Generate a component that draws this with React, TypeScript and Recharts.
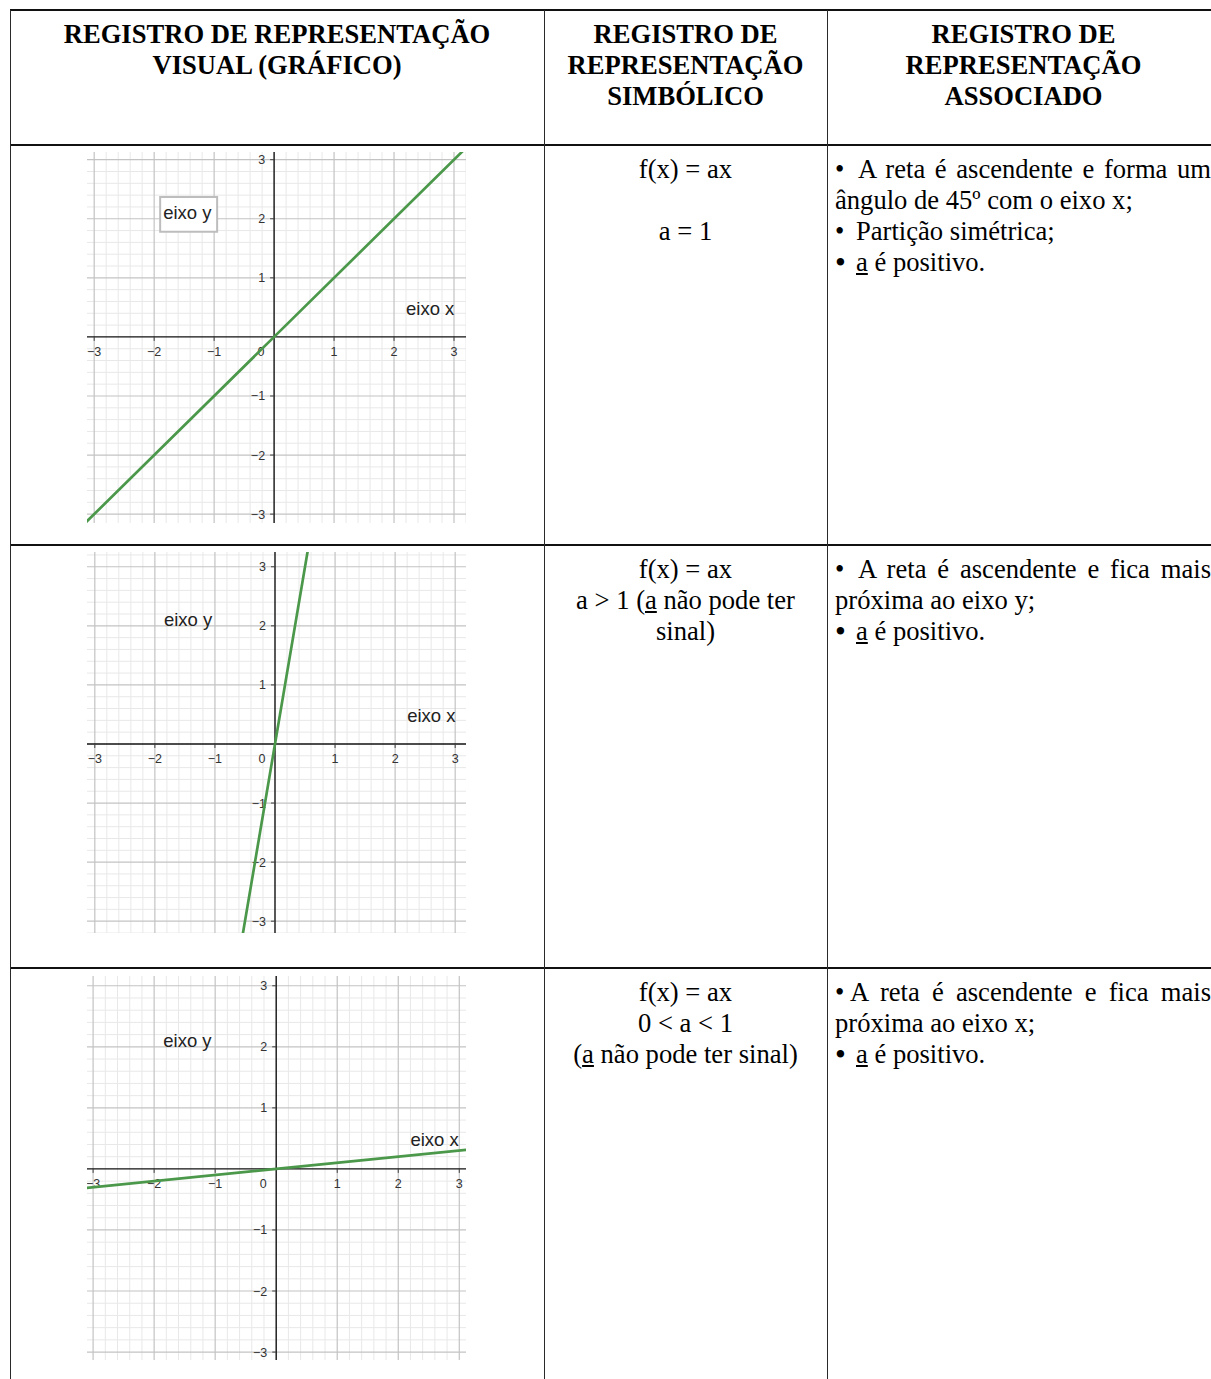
import React from 'react';
import { LineChart, Line, XAxis, YAxis, ReferenceLine, ReferenceDot, ReferenceArea } from 'recharts';

// ---------------- data ----------------
const majorValues = [-3, -2, -1, 1, 2, 3];
const tickLabels = ['\u22123', '\u22122', '\u22121', '1', '2', '3'];
const zeroLabel = '0';
const minorValues = [
  -3.2, -2.8, -2.6, -2.4, -2.2, -1.8, -1.6, -1.4, -1.2, -0.8, -0.6, -0.4, -0.2,
  0.2, 0.4, 0.6, 0.8, 1.2, 1.4, 1.6, 1.8, 2.2, 2.4, 2.6, 2.8, 3.2,
];

const lineEqualOne = [
  { x: -3.2, y: -3.2 },
  { x: 0, y: 0 },
  { x: 3.2, y: 3.2 },
];
const lineGreaterOne = [
  { x: -0.6, y: -3.6 },
  { x: 0, y: 0 },
  { x: 0.6, y: 3.6 },
];
const lineBetweenZeroOne = [
  { x: -3.2, y: -0.32 },
  { x: 0, y: 0 },
  { x: 3.2, y: 0.32 },
];

const axisNameY = 'eixo y';
const axisNameX = 'eixo x';

const headerVisual = ['REGISTRO DE REPRESENTAÇÃO', 'VISUAL (GRÁFICO)'];
const headerSymbolic = ['REGISTRO DE', 'REPRESENTAÇÃO', 'SIMBÓLICO'];
const headerAssociated = ['REGISTRO DE', 'REPRESENTAÇÃO', 'ASSOCIADO'];

// ---------------- styles ----------------
const SERIF = '"Liberation Serif", "Times New Roman", Times, serif';
const SANS = '"Liberation Sans", Arial, Helvetica, sans-serif';
const GREEN = '#4b984b';
const MINOR = '#e8e8e8';
const MAJOR = '#c3c3c3';

function PlotText(props: any) {
  const vb = props.viewBox || {};
  const cx = (vb.x || 0) + (vb.width || 0) / 2;
  const cy = (vb.y || 0) + (vb.height || 0) / 2;
  return (
    <text
      x={cx + (props.offX || 0)}
      y={cy + (props.offY || 0)}
      textAnchor={props.anchor || 'middle'}
      fontFamily={SANS}
      fontSize={props.size || 12.5}
      fill={props.color || '#333'}
    >
      {props.text}
    </text>
  );
}

type GraphProps = {
  data: { x: number; y: number }[];
  xDomain: [number, number];
  yDomain: [number, number];
  width: number;
  height: number;
  left: number;
  top: number;
  boxed?: boolean;
};

function Graph({ data, xDomain, yDomain, width, height, left, top, boxed }: GraphProps) {
  const tx = 4 / (width / (xDomain[1] - xDomain[0]));
  const ty = 4 / (height / (yDomain[1] - yDomain[0]));
  return (
    <div style={{ position: 'absolute', left, top, width, height }}>
      <LineChart width={width} height={height} data={data} margin={{ top: 0, right: 0, bottom: 0, left: 0 }}>
        <XAxis type="number" dataKey="x" domain={xDomain} allowDataOverflow hide />
        <YAxis type="number" domain={yDomain} allowDataOverflow hide />
        {minorValues.map((v) => (
          <ReferenceLine key={'mvx' + v} x={v} stroke={MINOR} strokeWidth={1} zIndex={-90} />
        ))}
        {minorValues.map((v) => (
          <ReferenceLine key={'mvy' + v} y={v} stroke={MINOR} strokeWidth={1} zIndex={-90} />
        ))}
        {majorValues.map((v) => (
          <ReferenceLine key={'Mvx' + v} x={v} stroke={MAJOR} strokeWidth={1.2} zIndex={-80} />
        ))}
        {majorValues.map((v) => (
          <ReferenceLine key={'Mvy' + v} y={v} stroke={MAJOR} strokeWidth={1.2} zIndex={-80} />
        ))}
        <ReferenceLine x={0} stroke="#111" strokeWidth={1.4} zIndex={-70} />
        <ReferenceLine y={0} stroke="#111" strokeWidth={1.4} zIndex={-70} />
        {majorValues.map((v) => (
          <ReferenceLine
            key={'tkx' + v}
            segment={[{ x: v, y: 0 }, { x: v, y: -ty }]}
            stroke="#444"
            strokeWidth={1}
            zIndex={-70}
          />
        ))}
        {majorValues.map((v) => (
          <ReferenceLine
            key={'tky' + v}
            segment={[{ x: -tx, y: v }, { x: 0, y: v }]}
            stroke="#444"
            strokeWidth={1}
            zIndex={-70}
          />
        ))}
        {boxed ? (
          <ReferenceArea
            x1={-1.9}
            x2={-0.95}
            y1={1.78}
            y2={2.37}
            fill="#ffffff"
            fillOpacity={1}
            stroke="#bdbdbd"
            strokeWidth={2}
            zIndex={-60}
          />
        ) : null}
        {majorValues.map((v, i) => (
          <ReferenceDot
            key={'lx' + v}
            x={v}
            y={0}
            r={0}
            fill="none"
            stroke="none"
            zIndex={-50}
            label={<PlotText text={tickLabels[i]} offY={19.5} anchor="middle" />}
          />
        ))}
        {majorValues.map((v, i) => (
          <ReferenceDot
            key={'ly' + v}
            x={0}
            y={v}
            r={0}
            fill="none"
            stroke="none"
            zIndex={-50}
            label={<PlotText text={tickLabels[i]} offX={-9} offY={4.5} anchor="end" />}
          />
        ))}
        <ReferenceDot
          x={0}
          y={0}
          r={0}
          fill="none"
          stroke="none"
          zIndex={-50}
          label={<PlotText text={zeroLabel} offX={-13} offY={19.5} anchor="middle" />}
        />
        <ReferenceDot
          x={-1.85}
          y={2.0}
          r={0}
          fill="none"
          stroke="none"
          zIndex={-50}
          label={<PlotText text={axisNameY} anchor="start" size={18.5} color="#222" />}
        />
        <ReferenceDot
          x={2.2}
          y={0.37}
          r={0}
          fill="none"
          stroke="none"
          zIndex={-50}
          label={<PlotText text={axisNameX} anchor="start" size={18.5} color="#222" />}
        />
        <Line
          type="linear"
          dataKey="y"
          stroke={GREEN}
          strokeWidth={2.7}
          dot={false}
          activeDot={false}
          isAnimationActive={false}
        />
      </LineChart>
    </div>
  );
}

// ---------------- table layout ----------------
const OFF = 0;
const ROWS = [10, 145, 545, 968];
const COLS = [10, 544, 827];

const lineStyle: React.CSSProperties = { whiteSpace: 'nowrap', height: 31 };

function Cell({ left, width, top, align, bold, children }: any) {
  return (
    <div
      style={{
        position: 'absolute',
        left: left - OFF,
        top: top - OFF + 9,
        width,
        textAlign: align,
        fontWeight: bold ? 'bold' : 'normal',
      }}
    >
      {children}
    </div>
  );
}

const Just = ({ children }: any) => (
  <div style={{ ...lineStyle, textAlign: 'justify', textAlignLast: 'justify' }}>{children}</div>
);
const L = ({ children }: any) => <div style={lineStyle}>{children}</div>;
const SmallBullet = ({ w }: { w: number }) => (
  <span style={{ display: 'inline-block', width: w }}>•</span>
);
const BigBullet = () => (
  <span style={{ display: 'inline-block', width: 21, fontSize: 31, lineHeight: '31px', verticalAlign: 'top' }}>•</span>
);
const U = ({ children }: any) => <span style={{ textDecoration: 'underline' }}>{children}</span>;

export default function App() {
  const col1W = COLS[1] - COLS[0];
  const col2W = COLS[2] - COLS[1];
  const col3L = 835;
  const col3W = 1211 - 835;
  return (
    <div
      style={{
        position: 'relative',
        width: 1211,
        height: 1379,
        overflow: 'hidden',
        background: '#fff',
        fontFamily: SERIF,
        fontSize: 26.6,
        lineHeight: '31px',
        color: '#000',
      }}
    >
      <style>{'html,body{margin:0;padding:0;overflow:hidden;}'}</style>
      {ROWS.map((y) => (
        <div key={'h' + y} style={{ position: 'absolute', left: COLS[0] - OFF, top: y - OFF - 1, width: 1300, height: 2, background: '#111' }} />
      ))}
      {COLS.map((x) => (
        <div key={'v' + x} style={{ position: 'absolute', left: x - OFF, top: ROWS[0] - OFF, width: 1, height: 1400, background: '#2a2a2a' }} />
      ))}

      {/* header */}
      <Cell left={COLS[0]} width={col1W} top={ROWS[0]} align="center" bold>
        {headerVisual.map((t) => <L key={t}>{t}</L>)}
      </Cell>
      <Cell left={COLS[1]} width={col2W} top={ROWS[0]} align="center" bold>
        {headerSymbolic.map((t) => <L key={t}>{t}</L>)}
      </Cell>
      <Cell left={col3L} width={1212 - 835} top={ROWS[0]} align="center" bold>
        {headerAssociated.map((t) => <L key={t}>{t}</L>)}
      </Cell>

      {/* graphs */}
      <Graph data={lineEqualOne} xDomain={[-3.12, 3.2]} yDomain={[-3.15, 3.13]} width={379} height={371} left={87 - OFF} top={152 - OFF} boxed />
      <Graph data={lineGreaterOne} xDomain={[-3.13, 3.18]} yDomain={[-3.2, 3.25]} width={379} height={381} left={87 - OFF} top={552 - OFF} />
      <Graph data={lineBetweenZeroOne} xDomain={[-3.1, 3.11]} yDomain={[-3.13, 3.16]} width={379} height={384} left={87 - OFF} top={976 - OFF} />

      {/* row 1 */}
      <Cell left={COLS[1]} width={col2W} top={ROWS[1]} align="center">
        <L>f(x) = ax</L>
        <L>{'\u00a0'}</L>
        <L>a = 1</L>
      </Cell>
      <Cell left={col3L} width={col3W} top={ROWS[1]} align="left">
        <Just><SmallBullet w={23} />A reta é ascendente e forma um</Just>
        <L>ângulo de 45º com o eixo x;</L>
        <L><SmallBullet w={21} />Partição simétrica;</L>
        <L><BigBullet /><U>a</U> é positivo.</L>
      </Cell>

      {/* row 2 */}
      <Cell left={COLS[1]} width={col2W} top={ROWS[2]} align="center">
        <L>f(x) = ax</L>
        <L>a &gt; 1 (<U>a</U> não pode ter</L>
        <L>sinal)</L>
      </Cell>
      <Cell left={col3L} width={col3W} top={ROWS[2]} align="left">
        <Just><SmallBullet w={23} />A reta é ascendente e fica mais</Just>
        <L>próxima ao eixo y;</L>
        <L><BigBullet /><U>a</U> é positivo.</L>
      </Cell>

      {/* row 3 */}
      <Cell left={COLS[1]} width={col2W} top={ROWS[3]} align="center">
        <L>f(x) = ax</L>
        <L>0 &lt; a &lt; 1</L>
        <L>(<U>a</U> não pode ter sinal)</L>
      </Cell>
      <Cell left={col3L} width={col3W} top={ROWS[3]} align="left">
        <Just><SmallBullet w={15} />A reta é ascendente e fica mais</Just>
        <L>próxima ao eixo x;</L>
        <L><BigBullet /><U>a</U> é positivo.</L>
      </Cell>
    </div>
  );
}
